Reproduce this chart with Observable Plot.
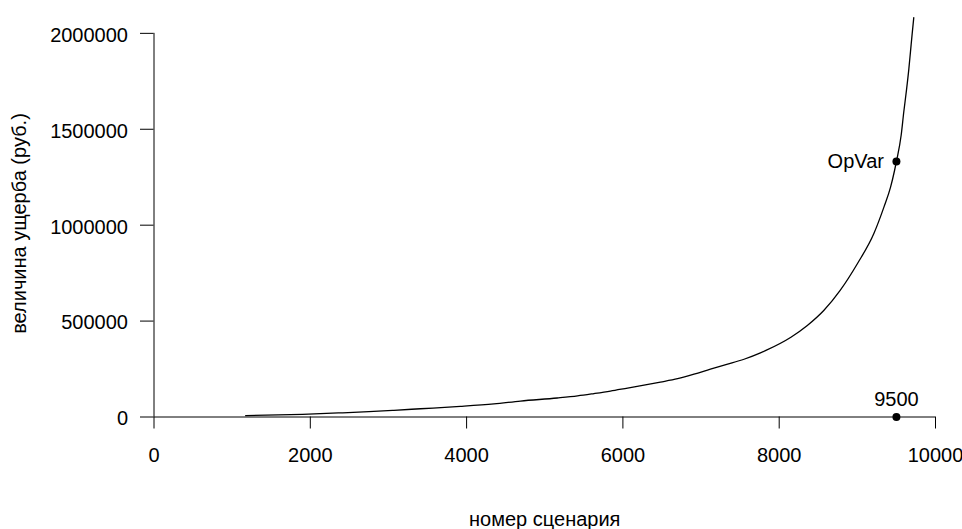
<!DOCTYPE html>
<html>
<head>
<meta charset="utf-8">
<script src="https://cdn.jsdelivr.net/npm/d3@7"></script>
<script src="https://cdn.jsdelivr.net/npm/@observablehq/plot@0.6"></script>
<style>
  html, body { margin: 0; padding: 0; background: #ffffff; }
  #chart svg { display: block; }
</style>
</head>
<body>
<div id="chart"></div>
<script>
// Sorted loss per scenario
const scenario = [1173, 1900, 2360, 2750, 3070, 3410, 3920, 4350, 4690, 5160, 5420, 5630, 5840, 6060, 6270, 6480, 6700, 6910, 7120, 7340, 7550, 7760, 7830, 8150, 8360, 8570, 8780, 9000, 9210, 9340, 9425, 9476, 9500, 9561, 9594, 9629, 9659, 9680, 9702, 9722];
const loss = [7000, 14000, 21000, 28000, 35000, 43000, 55000, 68000, 83000, 99000, 110000, 122000, 135000, 151000, 166000, 182000, 200000, 223000, 249000, 275000, 301000, 334000, 347000, 416000, 477000, 555000, 660000, 799000, 955000, 1094000, 1198000, 1285000, 1332000, 1470000, 1590000, 1705000, 1815000, 1905000, 2000000, 2082000];

const xTicks = [0, 2000, 4000, 6000, 8000, 10000];
const yTicks = [0, 500000, 1000000, 1500000, 2000000];

const opVarScenario = 9500;
const opVarLoss = 1332000;
const opVarLabel = "OpVar";
const scenarioLabel = "9500";

const xTitle = "номер сценария";
const yTitle = "величина ущерба (руб.)";

const curve = scenario.map((s, i) => ({s, l: loss[i]}));
const opVarPoint = [{s: opVarScenario, l: opVarLoss}];
const scenarioPoint = [{s: opVarScenario, l: 0}];

const font = "'Liberation Sans', Arial, sans-serif";

const chart = Plot.plot({
  width: 962,
  height: 529,
  marginLeft: 153.5,
  marginRight: 27,
  marginTop: 17.5,
  marginBottom: 112.5,
  style: {fontFamily: font, fontSize: "20px", color: "black", background: "white"},
  x: {domain: [0, 10000], label: null},
  y: {domain: [0, 2080000], label: null},
  marks: [
    // axis lines
    Plot.ruleX([0], {y1: 0, y2: 2000000, stroke: "black", strokeWidth: 1}),
    Plot.ruleY([0], {x1: 0, x2: 10000, stroke: "black", strokeWidth: 1}),
    // x axis ticks and labels
    Plot.axisX(xTicks, {tickSize: 12, tickPadding: 18.5, fontSize: 20, tickFormat: d => String(d), stroke: "black", fill: "black", label: null}),
    // y axis ticks
    Plot.axisY(yTicks, {tickSize: 13.5, tickFormat: () => "", stroke: "black", label: null}),
    // y tick labels
    Plot.text(yTicks, {y: d => d, frameAnchor: "left", dx: -26, dy: 2, textAnchor: "end", lineAnchor: "middle", text: d => String(d), fontSize: 20, fill: "black"}),
    // curve
    Plot.line(curve, {x: "s", y: "l", stroke: "black", strokeWidth: 1.3, curve: "monotone-x"}),
    // points
    Plot.dot(opVarPoint, {x: "s", y: "l", r: 4, fill: "black"}),
    Plot.dot(scenarioPoint, {x: "s", y: "l", r: 4, fill: "black"}),
    Plot.text(opVarPoint, {x: "s", y: "l", text: () => opVarLabel, textAnchor: "end", lineAnchor: "middle", dx: -12.5, fontSize: 20, fill: "black"}),
    Plot.text(scenarioPoint, {x: "s", y: "l", text: () => scenarioLabel, textAnchor: "middle", lineAnchor: "bottom", dy: -11.5, fontSize: 20, fill: "black"}),
    // axis titles
    Plot.text([xTitle], {frameAnchor: "bottom", text: d => d, lineAnchor: "bottom", dy: 108.5, fontSize: 20, fill: "black"}),
    Plot.text([yTitle], {frameAnchor: "left", text: d => d, rotate: -90, textAnchor: "middle", lineAnchor: "middle", dx: -134.5, dy: 6, fontSize: 20, fill: "black"})
  ]
});

document.getElementById("chart").appendChild(chart);
</script>
</body>
</html>
